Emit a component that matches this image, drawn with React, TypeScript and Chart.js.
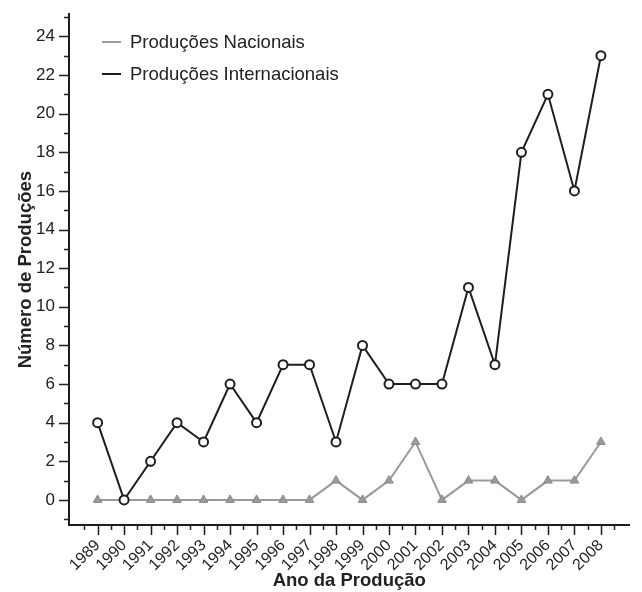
import React, { useEffect, useRef } from "react";
import { Chart, registerables } from "chart.js";

Chart.register(...registerables);

const years = [1989, 1990, 1991, 1992, 1993, 1994, 1995, 1996, 1997, 1998, 1999, 2000, 2001, 2002, 2003, 2004, 2005, 2006, 2007, 2008];
const nacionais = [0, 0, 0, 0, 0, 0, 0, 0, 0, 1, 0, 1, 3, 0, 1, 1, 0, 1, 1, 3];
const internacionais = [4, 0, 2, 4, 3, 6, 4, 7, 7, 3, 8, 6, 6, 6, 11, 7, 18, 21, 16, 23];
const seriesNames = ["Produções Nacionais", "Produções Internacionais"];
const xTitle = "Ano da Produção";
const yTitle = "Número de Produções";

const FONT = "'Liberation Sans', Arial, Helvetica, sans-serif";
const BLACK = "#1e1e1e";
const GRAY = "#9a9a9a";

const tickPlugin = {
  id: "customTicks",
  afterDraw(chart: any) {
    const ctx = chart.ctx;
    const xs = chart.scales.x;
    const ys = chart.scales.y;
    ctx.save();
    ctx.strokeStyle = BLACK;
    ctx.lineWidth = 1.5;
    const x0 = years[0] - 0.5;
    const x1 = years[years.length - 1] + 0.5;
    xs.ticks.forEach((t: any) => {
      const v = t.value;
      if (v < x0 - 1e-6 || v > x1 + 1e-6) return;
      const major = Math.abs(v - Math.round(v)) < 1e-6;
      const px = Math.round(xs.getPixelForValue(v)) + 0.5;
      const len = major ? 10 : 5;
      ctx.beginPath();
      ctx.moveTo(px, xs.top);
      ctx.lineTo(px, xs.top + len);
      ctx.stroke();
    });
    ys.ticks.forEach((t: any) => {
      const v = t.value;
      const major = Math.abs(v / 2 - Math.round(v / 2)) < 1e-6;
      const py = Math.round(ys.getPixelForValue(v)) + 0.5;
      const len = major ? 10 : 5;
      ctx.beginPath();
      ctx.moveTo(ys.right, py);
      ctx.lineTo(ys.right - len, py);
      ctx.stroke();
    });
    const colors = [GRAY, BLACK];
    const legendY = [42, 74];
    ctx.font = `18.5px ${FONT}`;
    ctx.textBaseline = "middle";
    ctx.textAlign = "left";
    seriesNames.forEach((name, i) => {
      ctx.strokeStyle = colors[i];
      ctx.lineWidth = 2;
      ctx.beginPath();
      ctx.moveTo(102, legendY[i]);
      ctx.lineTo(121, legendY[i]);
      ctx.stroke();
      ctx.fillStyle = "#222";
      ctx.fillText(name, 130, legendY[i] + 1);
    });
    ctx.restore();
  },
};

export default function App() {
  const ref = useRef<HTMLCanvasElement>(null);
  useEffect(() => {
    if (!ref.current) return;
    const chart = new Chart(ref.current, {
      type: "line",
      data: {
        datasets: [
          {
            label: seriesNames[0],
            data: years.map((y, i) => ({ x: y, y: nacionais[i] })),
            borderColor: GRAY,
            backgroundColor: GRAY,
            borderWidth: 2,
            pointStyle: "triangle",
            pointRadius: 5,
            pointBorderWidth: 1,
            pointBorderColor: "#8a8a8a",
            pointBackgroundColor: GRAY,
            tension: 0,
            order: 1,
          },
          {
            label: seriesNames[1],
            data: years.map((y, i) => ({ x: y, y: internacionais[i] })),
            borderColor: BLACK,
            backgroundColor: "#ffffff",
            borderWidth: 2,
            pointStyle: "circle",
            pointRadius: 4.5,
            pointBorderWidth: 2,
            pointBorderColor: BLACK,
            pointBackgroundColor: "#ffffff",
            tension: 0,
            order: 0,
          },
        ],
      },
      options: {
        animation: false,
        responsive: false,
        events: [],
        layout: { padding: { top: 13, right: 5, left: 0, bottom: 0 } },
        plugins: {
          legend: { display: false },
          tooltip: { enabled: false },
        },
        scales: {
          x: {
            type: "linear",
            min: 1987.92,
            max: 2009.08,
            afterFit: (s: any) => {
              s.height = 67;
            },
            grid: { display: true, drawOnChartArea: false, color: "rgba(0,0,0,0)", tickLength: 10 },
            border: { display: true, color: BLACK, width: 2 },
            ticks: {
              stepSize: 0.5,
              autoSkip: false,
              includeBounds: false,
              maxRotation: 45,
              minRotation: 45,
              padding: 1,
              color: "#222",
              font: { size: 16, family: FONT },
              callback: (v: any) => {
                const n = Number(v);
                if (Math.abs(n - Math.round(n)) < 1e-6 && n >= years[0] && n <= years[years.length - 1]) return String(Math.round(n));
                return "";
              },
            },
            title: {
              display: true,
              text: xTitle,
              color: "#222",
              font: { size: 18.5, weight: "bold", family: FONT },
              padding: { top: 0, bottom: 0 },
            },
          },
          y: {
            type: "linear",
            min: -1.3,
            max: 25.15,
            afterFit: (s: any) => {
              s.width = 69;
            },
            grid: { display: true, drawOnChartArea: false, color: "rgba(0,0,0,0)", tickLength: 10 },
            border: { display: true, color: BLACK, width: 2 },
            ticks: {
              stepSize: 1,
              autoSkip: false,
              includeBounds: false,
              padding: 4,
              color: "#222",
              font: { size: 17, family: FONT },
              callback: (v: any) => {
                const n = Math.round(Number(v));
                if (Math.abs(Number(v) - n) < 1e-6 && n % 2 === 0) return String(n);
                return "";
              },
            },
            title: {
              display: true,
              text: yTitle,
              color: "#222",
              font: { size: 18.5, weight: "bold", family: FONT },
              padding: { top: 15, bottom: 0 },
            },
          },
        },
      },
      plugins: [tickPlugin],
    } as any);
    return () => chart.destroy();
  }, []);
  return (
    <div style={{ position: "absolute", left: 0, top: 0, width: 642, height: 592, background: "#fff" }}>
      <canvas ref={ref} width={642} height={592} style={{ display: "block" }} />
    </div>
  );
}
